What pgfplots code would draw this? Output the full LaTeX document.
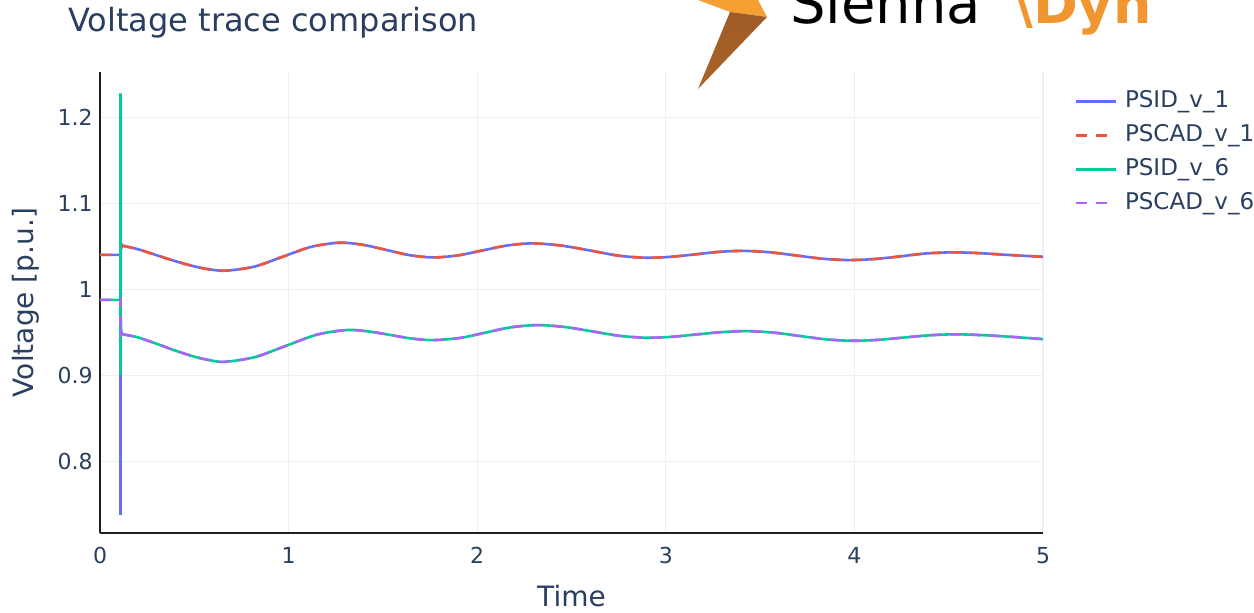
\documentclass[border=0pt]{standalone}
\usepackage{fontspec}
\setmainfont{DejaVu Sans}
\usepackage{pgfplots}
\pgfplotsset{compat=1.18}
\definecolor{cblue}{HTML}{636EFA}
\definecolor{cred}{HTML}{EF553B}
\definecolor{cgreen}{HTML}{00CC96}
\definecolor{cpurple}{HTML}{AB63FA}
\definecolor{textc}{HTML}{2A3F5F}
\definecolor{gridc}{HTML}{EBF0F8}
\definecolor{logoorange}{HTML}{F0952F}
\definecolor{boltorange}{HTML}{F4A033}
\definecolor{boltbrown}{HTML}{8A4A22}
\begin{document}
\begin{tikzpicture}
\useasboundingbox (0,0) rectangle (627pt,306.5pt);
\begin{axis}[
  at={(50pt,40pt)}, anchor=south west,
  scale only axis, width=471.5pt, height=230.5pt,
  xmin=0, xmax=5, ymin=0.717, ymax=1.253,
  axis x line*=bottom, axis y line*=left,
  axis line style={-, draw=black!88, line width=1.4pt},
  xtick={0,1,2,3,4,5}, ytick={0.8,0.9,1,1.1,1.2},
  yticklabels={0.8,0.9,1,1.1,1.2},
  major tick length=0pt,
  grid=major, major grid style={draw=gridc, line width=0.6pt},
  /pgf/number format/assume math mode=true,
  tick label style={font=\fontsize{11}{13}\selectfont, text=textc},
  xticklabel style={anchor=north, inner sep=0pt, yshift=-7pt},
  yticklabel style={anchor=east, inner sep=0pt, xshift=-3.5pt},
  xlabel={Time}, ylabel={Voltage [p.u.]},
  label style={font=\fontsize{14}{16}\selectfont, text=textc},
  xlabel style={at={(axis description cs:0.5,-0.1584)}, anchor=base},
  ylabel style={at={(axis description cs:-0.0710,0.5)}, anchor=base, rotate=0},
  legend style={at={(1,1)}, anchor=north west, xshift=12.5pt, yshift=-6.7pt,
    draw=none, fill=none, font=\fontsize{11.5}{13}\selectfont, text=textc,
    row sep=4.9pt, nodes={inner sep=0pt, text height=9pt, text depth=3pt}},
  legend cell align=left,
  legend image code/.code={\draw[#1] (0pt,0pt) -- (20pt,0pt); \path (24pt,0pt);},
  clip=false,
]
% PSID_v_1
\addplot[cblue, line width=1.3pt] table {
0 1.0403
0.108 1.0403
0.1085 0.738
0.109 1.09
0.110 1.045
0.114 1.052
0.12 1.051
};
\addlegendentry{PSID\_v\_1}
\addplot[cblue, line width=1.3pt, smooth, forget plot] table {
0.12 1.051
0.2 1.047
0.3 1.040
0.4 1.033
0.5 1.027
0.58 1.0235
0.67 1.022
0.82 1.0268
0.97 1.0383
1.12 1.0497
1.27 1.0545
1.395 1.052
1.52 1.046
1.645 1.0399
1.77 1.0374
1.9 1.0398
2.03 1.0456
2.16 1.0513
2.29 1.0537
2.44 1.0513
2.6 1.0454
2.75 1.0394
2.9 1.037
3.03 1.0382
3.16 1.041
3.28 1.0438
3.41 1.045
3.55 1.0434
3.69 1.0397
3.83 1.0359
3.97 1.0343
4.11 1.0356
4.25 1.0388
4.38 1.042
4.52 1.0433
4.65 1.0425
4.8 1.0405
5.0 1.0381
};
% PSCAD_v_1
\addplot[cred, line width=1.3pt, dash pattern=on 5.5pt off 4.5pt] table {
0 1.0403
0.108 1.0403
0.109 1.06
0.111 1.046
0.113 1.056
0.116 1.05
0.12 1.051
};
\addlegendentry{PSCAD\_v\_1}
\addplot[cred, line width=1.3pt, dash pattern=on 5.5pt off 4.5pt, smooth, forget plot] table {
0.12 1.051
0.2 1.047
0.3 1.040
0.4 1.033
0.5 1.027
0.58 1.0235
0.67 1.022
0.82 1.0268
0.97 1.0383
1.12 1.0497
1.27 1.0545
1.395 1.052
1.52 1.046
1.645 1.0399
1.77 1.0374
1.9 1.0398
2.03 1.0456
2.16 1.0513
2.29 1.0537
2.44 1.0513
2.6 1.0454
2.75 1.0394
2.9 1.037
3.03 1.0382
3.16 1.041
3.28 1.0438
3.41 1.045
3.55 1.0434
3.69 1.0397
3.83 1.0359
3.97 1.0343
4.11 1.0356
4.25 1.0388
4.38 1.042
4.52 1.0433
4.65 1.0425
4.8 1.0405
5.0 1.0381
};
% PSID_v_6
\addplot[cgreen, line width=1.3pt] table {
0 0.988
0.108 0.988
0.1085 1.228
0.109 0.90
0.110 0.965
0.112 0.95
0.12 0.948
};
\addlegendentry{PSID\_v\_6}
\addplot[cgreen, line width=1.3pt, smooth, forget plot] table {
0.12 0.948
0.2 0.9445
0.3 0.937
0.4 0.929
0.5 0.922
0.58 0.918
0.66 0.916
0.82 0.9214
0.985 0.9345
1.15 0.9476
1.31 0.953
1.425 0.9513
1.54 0.9472
1.655 0.943
1.77 0.9413
1.91 0.9438
2.045 0.95
2.18 0.9562
2.32 0.9587
2.465 0.9565
2.61 0.9514
2.755 0.9462
2.9 0.944
3.03 0.9451
3.165 0.9479
3.3 0.9506
3.43 0.9517
3.57 0.95
3.71 0.9461
3.85 0.9421
3.99 0.9405
4.13 0.9416
4.265 0.9443
4.4 0.9469
4.54 0.948
4.7 0.9468
4.85 0.9448
5.0 0.9424
};
% PSCAD_v_6
\addplot[cpurple, line width=1.3pt, dash pattern=on 5.5pt off 4.5pt] table {
0 0.988
0.108 0.988
0.109 0.99
0.111 0.945
0.114 0.951
0.12 0.948
};
\addlegendentry{PSCAD\_v\_6}
\addplot[cpurple, line width=1.3pt, dash pattern=on 5.5pt off 4.5pt, smooth, forget plot] table {
0.12 0.948
0.2 0.9445
0.3 0.937
0.4 0.929
0.5 0.922
0.58 0.918
0.66 0.916
0.82 0.9214
0.985 0.9345
1.15 0.9476
1.31 0.953
1.425 0.9513
1.54 0.9472
1.655 0.943
1.77 0.9413
1.91 0.9438
2.045 0.95
2.18 0.9562
2.32 0.9587
2.465 0.9565
2.61 0.9514
2.755 0.9462
2.9 0.944
3.03 0.9451
3.165 0.9479
3.3 0.9506
3.43 0.9517
3.57 0.95
3.71 0.9461
3.85 0.9421
3.99 0.9405
4.13 0.9416
4.265 0.9443
4.4 0.9469
4.54 0.948
4.7 0.9468
4.85 0.9448
5.0 0.9424
};
\end{axis}
% title
\node[anchor=base west, inner sep=0pt, text=textc, font=\fontsize{16}{19}\selectfont] at (34pt,290.5pt) {Voltage trace comparison};
% logo (cropped at top)
\begin{scope}
\clip (0,0) rectangle (627pt,306.5pt);
\fill[boltorange] (349pt,306.5pt) -- (379pt,306.5pt) -- (383.5pt,298pt) -- (365pt,300.5pt) -- cycle;
\shade[top color=boltbrown!80!boltorange, bottom color=boltbrown!70!boltorange] (365pt,300.5pt) -- (383.5pt,298pt) -- (349pt,262pt) -- cycle;
\node[anchor=base west, inner sep=0pt, font=\fontsize{28}{30}\selectfont, text=black] at (395pt,294.5pt) {Sienna};
\node[anchor=base west, inner sep=0pt, font=\fontsize{27}{30}\selectfont\bfseries, text=logoorange] at (506.5pt,294.5pt) {\textbackslash Dyn};
\end{scope}
\end{tikzpicture}
\end{document}
